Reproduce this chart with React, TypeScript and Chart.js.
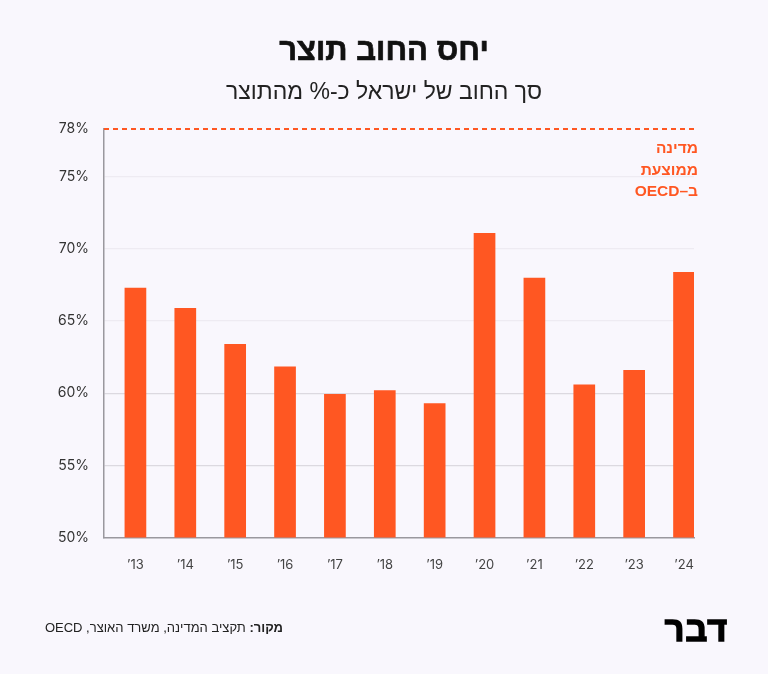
import React, { useEffect, useRef } from "react";
import { Chart, registerables } from "chart.js";

Chart.register(...registerables);

// Israel's debt-to-GDP ratio, by year
const YEAR_LABELS = ["\u201913", "\u201914", "\u201915", "\u201916", "\u201917", "\u201918", "\u201919", "\u201920", "\u201921", "\u201922", "\u201923", "\u201924"];
const DEBT_RATIO = [67.3, 65.9, 63.4, 61.85, 59.95, 60.2, 59.3, 71.1, 68.0, 60.6, 61.6, 68.4];
const OECD_AVG = 78.3;
const Y_TICKS = [50, 55, 60, 65, 70, 75];
const Y_MIN = 50;

const ORANGE = "#ff5722";
const BG = "#f9f7fd";
const TICK_FONT = "Inter, 'Noto Sans', sans-serif";
const HEB_FONT = "'Liberation Sans', 'DejaVu Sans', sans-serif";

export default function App() {
  const canvasRef = useRef<HTMLCanvasElement>(null);

  useEffect(() => {
    const xMin = -0.63;
    const xMax = YEAR_LABELS.length - 0.8;
    const chart = new Chart(canvasRef.current as HTMLCanvasElement, {
      type: "bar",
      data: {
        datasets: [
          {
            type: "bar",
            data: DEBT_RATIO.map((y, i) => ({ x: i, y })),
            backgroundColor: ORANGE,
            barPercentage: 0.435,
            categoryPercentage: 1,
            order: 1,
          } as any,
          {
            type: "line",
            data: [
              { x: xMin, y: OECD_AVG },
              { x: xMax + 0.06, y: OECD_AVG },
            ],
            borderColor: ORANGE,
            borderWidth: 2,
            borderDash: [5, 4],
            pointRadius: 0,
            clip: 6,
            order: 0,
          } as any,
        ],
      },
      options: {
        responsive: false,
        animation: false,
        devicePixelRatio: 1,
        events: [],
        layout: { padding: { left: 0, right: 74, top: 129, bottom: 96.5 } },
        plugins: { legend: { display: false }, tooltip: { enabled: false }, title: { display: false } },
        scales: {
          x: {
            type: "linear",
            min: xMin,
            max: xMax,
            offset: false,
            afterBuildTicks: (s: any) => {
              s.ticks = YEAR_LABELS.map((_, i) => ({ value: i }));
            },
            afterFit: (s: any) => {
              s.height = 40;
            },
            grid: { display: false, drawTicks: false },
            border: { display: true, color: "#9a989e", width: 1.5 },
            ticks: {
              autoSkip: false,
              maxRotation: 0,
              padding: 20,
              color: "#444",
              font: { family: TICK_FONT, size: 13 },
              callback: (v: any) => YEAR_LABELS[Math.round(Number(v))] ?? "",
            },
          },
          y: {
            type: "linear",
            min: Y_MIN,
            max: OECD_AVG,
            afterBuildTicks: (s: any) => {
              s.ticks = [...Y_TICKS, OECD_AVG].map((v) => ({ value: v }));
            },
            afterFit: (s: any) => {
              s.width = 104;
            },
            grid: {
              drawTicks: false,
              lineWidth: 1.2,
              color: (ctx: any) => {
                const v = ctx.tick ? ctx.tick.value : 0;
                if (v <= Y_MIN || v >= OECD_AVG) return "rgba(0,0,0,0)";
                return v >= 65 ? "#eeebf2" : "#dcd9e0";
              },
            },
            border: { display: true, color: "#9a989e", width: 1.5 },
            ticks: {
              padding: 15,
              color: "#333",
              font: { family: TICK_FONT, size: 14 },
              callback: (v: any) => Math.round(Number(v)) + "%",
            },
          },
        },
      },
    });
    return () => chart.destroy();
  }, []);

  return (
    <div
      style={{
        position: "absolute",
        left: 0,
        top: 0,
        width: 768,
        height: 674,
        background: BG,
        overflow: "hidden",
        fontFamily: HEB_FONT,
      }}
    >
      <canvas ref={canvasRef} width={768} height={674} style={{ position: "absolute", left: 0, top: 0, width: 768, height: 674 }} />

      <div
        dir="rtl"
        style={{ position: "absolute", left: 0, top: 30, width: 768, textAlign: "center", fontSize: 31, fontWeight: 900, color: "#111", lineHeight: "40px", WebkitTextStroke: "0.7px #111" } as any}
      >
        יחס החוב תוצר
      </div>
      <div
        dir="rtl"
        style={{ position: "absolute", left: 0, top: 76, width: 768, textAlign: "center", fontSize: 23, fontWeight: 400, color: "#222", lineHeight: "30px" }}
      >
        סך החוב של ישראל כ-% מהתוצר
      </div>

      <div
        dir="rtl"
        style={{ position: "absolute", right: 768 - 698, top: 137, width: 120, textAlign: "right", fontSize: 15.5, fontWeight: 700, color: ORANGE, lineHeight: "21.5px" }}
      >
        <div>מדינה</div>
        <div>ממוצעת</div>
        <div>ב–OECD</div>
      </div>

      <div
        dir="rtl"
        style={{ position: "absolute", right: 768 - 283, top: 619, whiteSpace: "nowrap", fontSize: 13, color: "#222", lineHeight: "18px" }}
      >
        <span style={{ fontWeight: 700 }}>מקור:</span> תקציב המדינה, משרד האוצר, OECD
      </div>

      <div
        dir="rtl"
        style={{ position: "absolute", right: 768 - 728, top: 611, whiteSpace: "nowrap", fontSize: 34, fontWeight: 900, color: "#000", lineHeight: "36px", fontFamily: "'Liberation Sans', 'DejaVu Sans', sans-serif", WebkitTextStroke: "1.6px #000", letterSpacing: 1 } as any}
      >
        דבר
      </div>
    </div>
  );
}
